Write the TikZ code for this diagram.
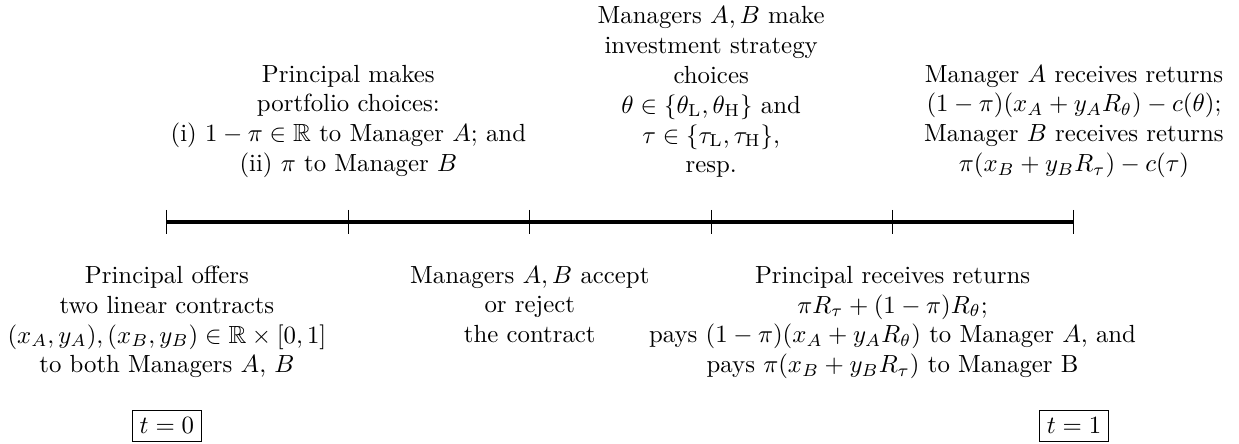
\documentclass[tikz,border=0pt]{standalone}
\usepackage{amsmath}
\usepackage{amssymb}
\def\tstep{2.571}
\def\ticklen{0.17}
\def\lblgap{0.62}

\begin{document}
\begin{tikzpicture}[
    lbl/.style={align=center, inner sep=0pt},
    tbox/.style={draw, line width=0.4pt, inner sep=3pt}
  ]
  \useasboundingbox (0,0) rectangle (17.56,6.29);

  \foreach \i in {0,...,5} {
    \coordinate (t\i) at ({2.366+\i*\tstep}, 3.146);
    \draw[line width=0.4pt] (t\i) ++(0,\ticklen) -- ++(0,{-2*\ticklen});
  }
  \draw[line width=1.5pt] (t0) -- (t5);

  % below the line
  \node[lbl, anchor=north] (offer) at ([yshift=-\lblgap cm]t0) {Principal offers\\ two linear contracts\\ $(x_A,y_A),(x_B,y_B)\in\mathbb{R}\times[0,1]$\\ to both Managers $A$, $B$};
  \node[lbl, anchor=north] (accept) at ([yshift=-\lblgap cm]t2) {Managers $A,B$ accept\\ or reject\\ the contract};
  \node[lbl, anchor=north] (payout) at ([yshift=-\lblgap cm]t4) {Principal receives returns\\ $\pi R_\tau+(1-\pi)R_\theta$;\\ pays $(1-\pi)(x_A+y_AR_\theta)$ to Manager $A$, and\\ pays $\pi(x_B+y_BR_\tau)$ to Manager B};

  % above the line
  \node[lbl, anchor=south] (portfolio) at ([yshift=\lblgap cm]t1) {Principal makes\\ portfolio choices:\\ (i) $1-\pi\in\mathbb{R}$ to Manager $A$; and\\ (ii) $\pi$ to Manager $B$};
  \node[lbl, anchor=south] (invest) at ([yshift=\lblgap cm]t3) {Managers $A,B$ make\\ investment strategy\\ choices\\ $\theta\in\{\theta_{\mathrm{L}},\theta_{\mathrm{H}}\}$ and\\ $\tau\in\{\tau_{\mathrm{L}},\tau_{\mathrm{H}}\}$,\\ resp.};
  \node[lbl, anchor=south] (returns) at ([yshift=\lblgap cm]t5) {Manager $A$ receives returns\\ $(1-\pi)(x_A+y_AR_\theta)-c(\theta)$;\\ Manager $B$ receives returns\\ $\pi(x_B+y_BR_\tau)-c(\tau)$};

  \node[tbox] (start) at ([yshift=-2.89cm]t0) {$t=0$};
  \node[tbox] (finish) at ([yshift=-2.89cm]t5) {$t=1$};
\end{tikzpicture}
\end{document}
